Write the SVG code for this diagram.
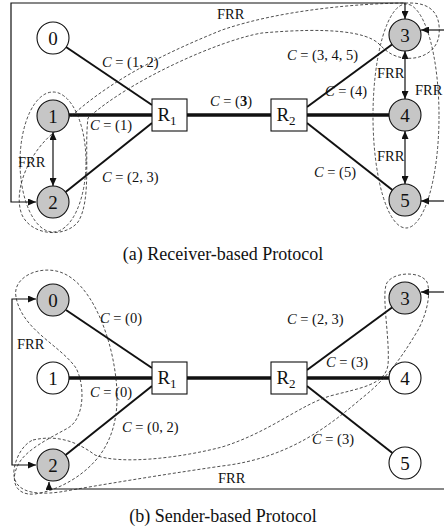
<svg xmlns="http://www.w3.org/2000/svg" width="444" height="531" viewBox="0 0 444 531" font-family="'Liberation Serif', 'Times New Roman', serif">
  <style>
    text { font-family: "Liberation Serif", "Times New Roman", serif; fill: #111; }
    .node { stroke: #111; stroke-width: 1.1; }
    .gray { fill: #c6c6c6; }
    .white { fill: #fff; }
    .num { font-size: 19px; text-anchor: middle; }
    .router { fill: #fff; stroke: #111; stroke-width: 1.1; }
    .rl { font-size: 19px; text-anchor: middle; }
    .link { stroke: #111; stroke-width: 2; fill: none; }
    .thick { stroke: #111; stroke-width: 3.6; fill: none; }
    .frr { stroke: #111; stroke-width: 1.2; fill: none; }
    .group { stroke: #222; stroke-width: 0.8; fill: none; stroke-dasharray: 3 2; }
    .lbl { font-size: 14.5px; }
    .cap { font-size: 18px; text-anchor: middle; }
  </style>
  <defs>
    <marker id="ah" viewBox="0 0 8 7" refX="8" refY="3.5" markerWidth="8" markerHeight="7" markerUnits="userSpaceOnUse" orient="auto-start-reverse">
      <path d="M0,0 L8,3.5 L0,7 z" fill="#111"/>
    </marker>
  </defs>

  <!-- ===== (a) Receiver-based ===== -->
  <g id="connectors-a">
    <line class="link" x1="66" y1="47" x2="152" y2="105"/>
    <line class="thick" x1="69" y1="115" x2="152" y2="115"/>
    <line class="link" x1="65.6" y1="192" x2="152" y2="123"/>
    <line class="thick" x1="187" y1="115" x2="271" y2="115"/>
    <line class="link" x1="307" y1="107" x2="392" y2="44.5"/>
    <line class="thick" x1="307" y1="115" x2="389" y2="115"/>
    <line class="link" x1="307" y1="123" x2="392.4" y2="190"/>
    <!-- fast re-route paths -->
    <polyline class="frr" points="405,19 405,3 11,3 11,202 36,202" marker-start="url(#ah)" marker-end="url(#ah)"/>
    <line class="frr" x1="444" y1="30" x2="421" y2="30" marker-end="url(#ah)"/>
    <line class="frr" x1="444" y1="201" x2="421" y2="201" marker-end="url(#ah)"/>
    <line class="frr" x1="53" y1="132" x2="53" y2="186" marker-start="url(#ah)" marker-end="url(#ah)"/>
    <line class="frr" x1="405" y1="51" x2="405" y2="99" marker-start="url(#ah)" marker-end="url(#ah)"/>
    <line class="frr" x1="405" y1="131" x2="405" y2="184" marker-start="url(#ah)" marker-end="url(#ah)"/>
    <!-- multicast groups -->
    <ellipse class="group" cx="53" cy="162" rx="33" ry="70"/>
    <ellipse class="group" cx="406" cy="116" rx="33" ry="112"/>
    <path class="group" d="M57,130 C100,85 160,55 222,30 C280,10 360,3 410,3 C432,3 441,15 439,35 C437,52 420,60 405,58 C392,57 385,50 378,43 C365,32 330,27 262,33 C220,40 130,80 88,118 C84,150 92,200 78,222 C65,238 32,236 22,215 C12,190 30,150 57,130 Z"/>
  </g>

  <g id="a-n0"><circle class="node white" cx="53" cy="38" r="16"/><text class="num" x="53" y="45">0</text></g>
  <g id="a-n1"><circle class="node gray" cx="53" cy="116" r="16"/><text class="num" x="53" y="123">1</text></g>
  <g id="a-n2"><circle class="node gray" cx="53" cy="202" r="16"/><text class="num" x="53" y="209">2</text></g>
  <g id="a-r1"><rect class="router" x="152" y="99" width="35" height="32"/><text class="rl" x="167" y="121">R<tspan font-size="13" dy="4">1</tspan></text></g>
  <g id="a-r2"><rect class="router" x="271" y="99" width="36" height="32"/><text class="rl" x="286" y="121">R<tspan font-size="13" dy="4">2</tspan></text></g>
  <g id="a-n3"><circle class="node gray" cx="405" cy="35" r="16"/><text class="num" x="405" y="42">3</text></g>
  <g id="a-n4"><circle class="node gray" cx="405" cy="115" r="16"/><text class="num" x="405" y="122">4</text></g>
  <g id="a-n5"><circle class="node gray" cx="405" cy="200" r="16"/><text class="num" x="405" y="207">5</text></g>

  <g id="labels-a">
    <text class="lbl" x="102" y="67"><tspan font-style="italic">C</tspan> = (1, 2)</text>
    <text class="lbl" x="90" y="130"><tspan font-style="italic">C</tspan> = (1)</text>
    <text class="lbl" x="102" y="182"><tspan font-style="italic">C</tspan> = (2, 3)</text>
    <text class="lbl" x="210" y="106"><tspan font-style="italic">C</tspan> = (<tspan font-weight="bold">3</tspan>)</text>
    <text class="lbl" x="287" y="60"><tspan font-style="italic">C</tspan> = (3, 4, 5)</text>
    <text class="lbl" x="325" y="96"><tspan font-style="italic">C</tspan> = (4)</text>
    <text class="lbl" x="314" y="177"><tspan font-style="italic">C</tspan> = (5)</text>
    <text class="lbl" x="217" y="19">FRR</text>
    <text class="lbl" x="18" y="167">FRR</text>
    <text class="lbl" x="377" y="78">FRR</text>
    <text class="lbl" x="415" y="95">FRR</text>
    <text class="lbl" x="377" y="161">FRR</text>
    <text class="cap" x="223" y="260">(a) Receiver-based Protocol</text>
  </g>

  <!-- ===== (b) Sender-based ===== -->
  <g id="connectors-b">
    <line class="link" x1="66" y1="310" x2="152" y2="368"/>
    <line class="thick" x1="69" y1="378" x2="152" y2="378"/>
    <line class="link" x1="65.6" y1="455" x2="152" y2="386"/>
    <line class="thick" x1="187" y1="378" x2="271" y2="378"/>
    <line class="link" x1="307" y1="370" x2="392" y2="307.5"/>
    <line class="thick" x1="307" y1="378" x2="389" y2="378"/>
    <line class="link" x1="307" y1="386" x2="392.4" y2="453"/>
    <!-- fast re-route paths -->
    <polyline class="frr" points="36,299 12,299 12,465 36,465" marker-start="url(#ah)" marker-end="url(#ah)"/>
    <polyline class="frr" points="444,489 49,489 49,482" marker-end="url(#ah)"/>
    <line class="frr" x1="444" y1="292" x2="421" y2="292" marker-end="url(#ah)"/>
    <!-- multicast groups -->
    <path class="group" d="M16,297 C12,278 38,265 60,272 C90,282 108,330 114,365 C120,400 118,430 100,455 C85,475 60,490 35,494 C15,496 10,480 18,465 C25,450 50,438 68,428 C85,418 85,385 76,368 C60,345 22,330 16,297 Z"/>
    <path class="group" d="M33,440 C55,435 75,440 95,455 C120,465 180,458 222,447 C270,432 300,405 330,396 C360,388 385,385 388,365 C390,340 382,300 386,285 C390,272 420,270 427,282 C432,295 425,320 415,335 C400,360 385,380 362,398 C330,425 290,458 222,466 C160,475 100,485 60,492 C30,496 12,490 14,470 C16,455 25,443 33,440 Z"/>
  </g>

  <g id="b-n0"><circle class="node gray" cx="53" cy="300" r="16"/><text class="num" x="53" y="307">0</text></g>
  <g id="b-n1"><circle class="node white" cx="53" cy="378" r="16"/><text class="num" x="53" y="385">1</text></g>
  <g id="b-n2"><circle class="node gray" cx="53" cy="465" r="16"/><text class="num" x="53" y="472">2</text></g>
  <g id="b-r1"><rect class="router" x="152" y="362" width="35" height="32"/><text class="rl" x="167" y="384">R<tspan font-size="13" dy="4">1</tspan></text></g>
  <g id="b-r2"><rect class="router" x="271" y="362" width="36" height="32"/><text class="rl" x="286" y="384">R<tspan font-size="13" dy="4">2</tspan></text></g>
  <g id="b-n3"><circle class="node gray" cx="405" cy="298" r="16"/><text class="num" x="405" y="305">3</text></g>
  <g id="b-n4"><circle class="node white" cx="405" cy="378" r="16"/><text class="num" x="405" y="385">4</text></g>
  <g id="b-n5"><circle class="node white" cx="405" cy="463" r="16"/><text class="num" x="405" y="470">5</text></g>

  <g id="labels-b">
    <text class="lbl" x="100" y="323"><tspan font-style="italic">C</tspan> = (0)</text>
    <text class="lbl" x="90" y="397"><tspan font-style="italic">C</tspan> = (0)</text>
    <text class="lbl" x="122" y="432"><tspan font-style="italic">C</tspan> = (0, 2)</text>
    <text class="lbl" x="287" y="324"><tspan font-style="italic">C</tspan> = (2, 3)</text>
    <text class="lbl" x="326" y="367"><tspan font-style="italic">C</tspan> = (3)</text>
    <text class="lbl" x="312" y="444"><tspan font-style="italic">C</tspan> = (3)</text>
    <text class="lbl" x="17" y="349">FRR</text>
    <text class="lbl" x="218" y="483">FRR</text>
    <text class="cap" x="223" y="522">(b) Sender-based Protocol</text>
  </g>
</svg>
